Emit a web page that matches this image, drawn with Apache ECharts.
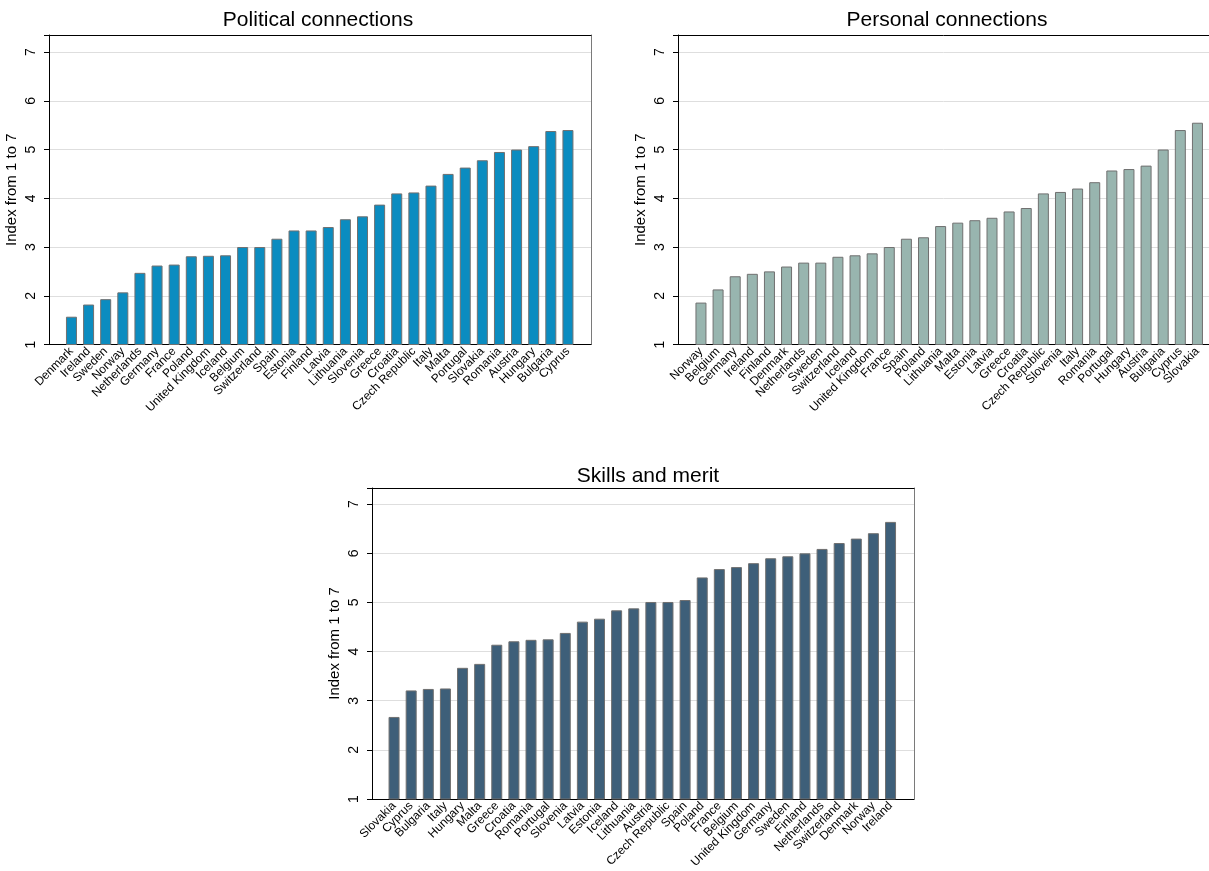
<!DOCTYPE html>
<html>
<head>
<meta charset="utf-8">
<script src="https://cdn.jsdelivr.net/npm/echarts@6/dist/echarts.min.js"></script>
<style>html,body{margin:0;padding:0;background:#fff}#c{width:1209px;height:871px}</style>
</head>
<body>
<div id="c"></div>
<script>
// ---- Data ----
const politicalCountries = ["Denmark","Ireland","Sweden","Norway","Netherlands","Germany","France","Poland","United Kingdom","Iceland","Belgium","Switzerland","Spain","Estonia","Finland","Latvia","Lithuania","Slovenia","Greece","Croatia","Czech Republic","Italy","Malta","Portugal","Slovakia","Romania","Austria","Hungary","Bulgaria","Cyprus"];
const politicalValues = [1.57,1.82,1.93,2.07,2.47,2.62,2.64,2.81,2.82,2.83,3.00,3.00,3.17,3.34,3.34,3.41,3.57,3.63,3.87,4.10,4.12,4.26,4.50,4.63,4.78,4.95,5.00,5.07,5.38,5.40];

const personalCountries = ["Norway","Belgium","Germany","Ireland","Finland","Denmark","Netherlands","Sweden","Switzerland","Iceland","United Kingdom","France","Spain","Poland","Lithuania","Malta","Estonia","Latvia","Greece","Croatia","Czech Republic","Slovenia","Italy","Romania","Portugal","Hungary","Austria","Bulgaria","Cyprus","Slovakia"];
const personalValues = [1.86,2.13,2.40,2.45,2.50,2.60,2.68,2.68,2.80,2.83,2.87,3.00,3.17,3.20,3.43,3.50,3.55,3.60,3.73,3.80,4.10,4.13,4.20,4.33,4.57,4.60,4.67,5.00,5.40,5.55];

const skillsCountries = ["Slovakia","Cyprus","Bulgaria","Italy","Hungary","Malta","Greece","Croatia","Romania","Portugal","Slovenia","Latvia","Estonia","Iceland","Lithuania","Austria","Czech Republic","Spain","Poland","France","Belgium","United Kingdom","Germany","Sweden","Finland","Netherlands","Switzerland","Denmark","Norway","Ireland"];
const skillsValues = [2.67,3.21,3.24,3.25,3.67,3.75,4.14,4.21,4.24,4.25,4.38,4.61,4.67,4.84,4.88,5.01,5.01,5.05,5.51,5.68,5.72,5.80,5.90,5.94,6.00,6.09,6.21,6.30,6.41,6.64];

const yTicks = [1,2,3,4,5,6,7];
const titles = ["Political connections","Personal connections","Skills and merit"];
const yAxisTitle = "Index from 1 to 7";

// ---- Layout ----
const FONT = "Liberation Sans, Arial, Helvetica, sans-serif";
const panels = [
  {title: titles[0], cats: politicalCountries, vals: politicalValues, color: "#0b8cc0",
   frameLeft: 49, frameTop: 35, frameBottom: 344.5, innerLeft: 62.9, ymax: 7.35, titleTop: 5, titleX: 313},
  {title: titles[1], cats: personalCountries, vals: personalValues, color: "#98b5af",
   frameLeft: 678, frameTop: 35, frameBottom: 344.5, innerLeft: 692.4, ymax: 7.35, titleTop: 5, titleX: 942},
  {title: titles[2], cats: skillsCountries, vals: skillsValues, color: "#3e5f79",
   frameLeft: 372, frameTop: 488, frameBottom: 799, innerLeft: 385.5, ymax: 7.33, titleTop: 461, titleX: 643}
];
const FRAME_W = 542, INNER_W = 513.6;

const grid = [], xAxis = [], yAxis = [], series = [], title = [];
panels.forEach((p, k) => {
  const h = p.frameBottom - p.frameTop;
  const gFrame = grid.length;
  grid.push({left: p.frameLeft, top: p.frameTop, width: FRAME_W, height: h, containLabel: false});
  const gInner = grid.length;
  grid.push({left: p.innerLeft, top: p.frameTop, width: INNER_W, height: h, containLabel: false});

  title.push({text: p.title, left: p.titleX, textAlign: "center", top: p.titleTop,
    textStyle: {fontFamily: FONT, fontSize: 21, fontWeight: "normal", color: "#000"}});

  // Frame axes
  xAxis.push({gridIndex: gFrame, type: "value", min: 0, max: 1, position: "bottom",
    axisLine: {show: true, lineStyle: {color: "#000", width: 1}}, axisTick: {show: false},
    axisLabel: {show: false}, splitLine: {show: false}});
  xAxis.push({gridIndex: gFrame, type: "value", min: 0, max: 1, position: "top",
    axisLine: {show: true, lineStyle: {color: "#000", width: 1}}, axisTick: {show: false},
    axisLabel: {show: false}, splitLine: {show: false}});
  yAxis.push({gridIndex: gFrame, type: "value", min: 1, max: p.ymax, interval: 1, position: "left",
    name: yAxisTitle, nameLocation: "middle", nameGap: 30,
    nameTextStyle: {fontFamily: FONT, fontSize: 15, color: "#000"},
    axisLine: {show: true, onZero: false, lineStyle: {color: "#000", width: 1}},
    axisTick: {show: true, length: 5, lineStyle: {color: "#000"}},
    axisLabel: {show: true, rotate: 90, margin: 11, fontFamily: FONT, fontSize: 14, color: "#000",
      formatter: v => (yTicks.indexOf(v) >= 0 ? String(v) : "")},
    splitLine: {show: true, lineStyle: {color: "#dedede", width: 1}}});
  yAxis.push({gridIndex: gFrame, type: "value", min: 1, max: p.ymax, position: "right",
    axisLine: {show: true, onZero: false, lineStyle: {color: "#7a7a7a", width: 1}},
    axisTick: {show: false}, axisLabel: {show: false}, splitLine: {show: false}});

  // Inner axes for the bars
  const xi = xAxis.length;
  xAxis.push({gridIndex: gInner, type: "category", data: p.cats, boundaryGap: true,
    axisLine: {show: false}, axisTick: {show: false},
    axisLabel: {interval: 0, rotate: 45, margin: 5, fontFamily: FONT, fontSize: 12, color: "#000"},
    splitLine: {show: false}});
  const yi = yAxis.length;
  yAxis.push({gridIndex: gInner, type: "value", min: 1, max: p.ymax, show: false});

  series.push({type: "bar", xAxisIndex: xi, yAxisIndex: yi, data: p.vals, barWidth: 11,
    itemStyle: {color: p.color, borderColor: "#707070", borderWidth: 1}, animation: false});
});

const chart = echarts.init(document.getElementById("c"), null, {renderer: "canvas"});
chart.setOption({animation: false, title, grid, xAxis, yAxis, series});
</script>
</body>
</html>
